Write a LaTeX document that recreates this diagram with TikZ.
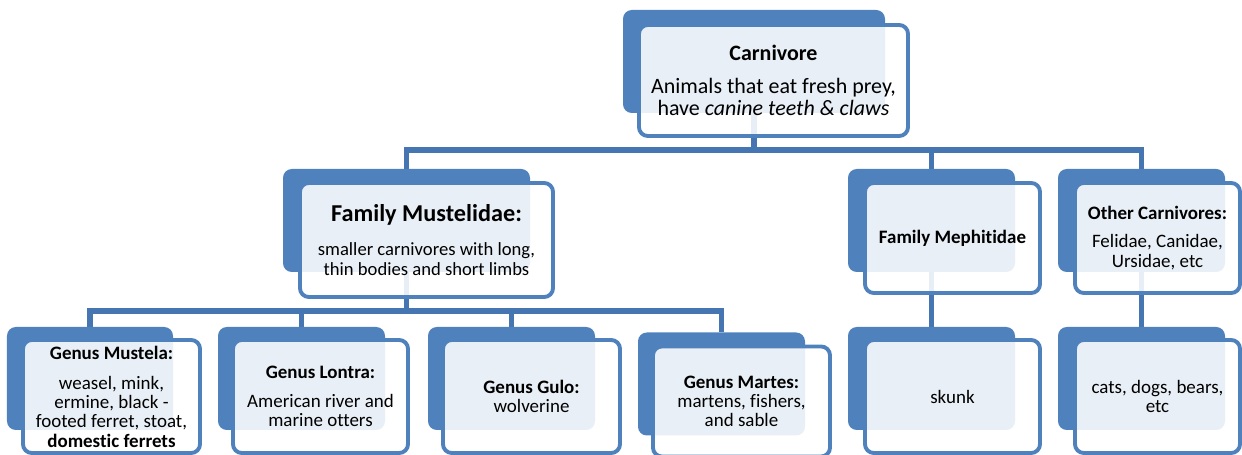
\documentclass[tikz,border=0pt]{standalone}
\usepackage{fontspec}
\setmainfont{Carlito}[Ligatures=NoCommon]
\usetikzlibrary{backgrounds}
\definecolor{cardblue}{RGB}{79,129,189}
\definecolor{linkblue}{RGB}{70,118,178}

\begin{document}
\begin{tikzpicture}[
    back/.style 2 args={fill=cardblue,rounded corners=5pt,inner sep=0pt,
      minimum width=#1cm,minimum height=#2cm},
    card/.style 2 args={draw=cardblue,line width=2.2pt,fill=white,fill opacity=0.88,
      text opacity=1,rounded corners=5pt,align=center,inner sep=2pt,
      minimum width=#1cm,minimum height=#2cm},
    small/.style={font=\fontsize{10.8}{11}\selectfont},
    link/.style={draw=linkblue,line width=3pt}
]
\useasboundingbox (0,0) rectangle (24.84,9.1);

%Back boxes
\node[back={5.24}{2.06}] (carnb) at (15.08,7.87) {};
\node[back={4.94}{2.06}] (mustb) at (8.13,4.69) {};
\node[back={3.34}{2.06}] (mephb) at (18.63,4.69) {};
\node[back={3.34}{2.06}] (othb) at (22.83,4.69) {};
\node[back={3.32}{2.06}] (mustelab) at (1.80,1.53) {};
\node[back={3.34}{2.06}] (lontrab) at (6.03,1.53) {};
\node[back={3.34}{2.06}] (gulob) at (10.23,1.53) {};
\node[back={3.34}{2.06}] (martesb) at (14.43,1.42) {};
\node[back={3.34}{2.06}] (skunkb) at (18.63,1.53) {};
\node[back={3.34}{2.06}] (catsb) at (22.83,1.53) {};

%Front boxes
\node[card={5.38}{2.22},font=\fontsize{12.5}{12.5}\selectfont] (carn) at (15.47,7.49)
  {\textbf{Carnivore}\\[6pt] Animals that eat fresh prey,\\ have \textit{canine teeth \& claws}};
\node[card={5.06}{2.28},font=\fontsize{10.6}{11.3}\selectfont] (must) at (8.53,4.30)
  {{\fontsize{13.8}{14}\selectfont\textbf{Family Mustelidae:}}\\[8pt]
   smaller carnivores with long,\\ thin bodies and short limbs};
\node[card={3.5}{2.2},small] (meph) at (19.05,4.34) {\textbf{Family Mephitidae}};
\node[card={3.3}{2.2},small] (oth) at (23.15,4.34)
  {\textbf{Other Carnivores:}\\[5pt] Felidae, Canidae,\\ Ursidae, etc};
\node[card={3.54}{2.26},small] (mustela) at (2.23,1.17)
  {\textbf{Genus Mustela:}\\[6pt] weasel, mink,\\ ermine, black -\\ footed ferret, stoat,\\ \textbf{domestic ferrets}};
\node[card={3.5}{2.26},small] (lontra) at (6.41,1.17)
  {\textbf{Genus Lontra:}\\[5pt] American river and\\ marine otters};
\node[card={3.54}{2.26},small] (gulo) at (10.63,1.17)
  {\textbf{Genus Gulo:}\\ wolverine};
\node[card={3.54}{2.2},small] (martes) at (14.83,1.07)
  {\textbf{Genus Martes:}\\ martens, fishers,\\ and sable};
\node[card={3.5}{2.26},small] (skunk) at (19.05,1.17) {skunk};
\node[card={3.3}{2.26},small] (cats) at (23.15,1.17) {cats, dogs, bears,\\ etc};

%Draw the connections
\begin{scope}[on background layer]
\coordinate (bus) at (0,6.1);
\coordinate (subbus) at (0,2.88);
\draw[link] (carnb.south) -- (carnb.south |- bus) -| (mustb.north);
\draw[link] (carnb.south) -- (carnb.south |- bus) -| (mephb.north);
\draw[link] (carnb.south) -- (carnb.south |- bus) -| (othb.north);
\draw[link] (mustb.south) -- (mustb.south |- subbus) -| (mustelab.north);
\draw[link] (mustb.south) -- (mustb.south |- subbus) -| (lontrab.north);
\draw[link] (mustb.south) -- (mustb.south |- subbus) -| (gulob.north);
\draw[link] (mustb.south) -- (mustb.south |- subbus) -| (martesb.north);
\draw[link] (mephb.south) -- (skunkb.north);
\draw[link] (othb.south) -- (catsb.north);
\end{scope}

\end{tikzpicture}
\end{document}
